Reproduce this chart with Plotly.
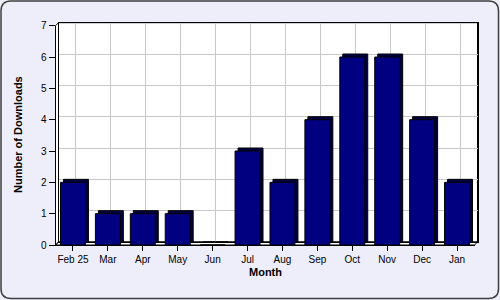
import plotly.graph_objects as go

months = ["Feb 25", "Mar", "Apr", "May", "Jun", "Jul", "Aug", "Sep", "Oct", "Nov", "Dec", "Jan"]
downloads = [2, 1, 1, 1, 0, 3, 2, 4, 6, 6, 4, 2]
y_ticks = [0, 1, 2, 3, 4, 5, 6, 7]

W, H = 500, 300


def px(x):
    return x / W


def py(y):
    return 1 - y / H


# back wall (base axes) and front frame (second subplot), 3px depth
back_x = [58.5, 477.5]
back_y = [22.7, 242.0]
front_x = [55.5, 474.5]
front_y = [25.7, 245.0]

fig = go.Figure()

# depth / shadow of the bars (back frame)
fig.add_trace(go.Bar(
    x=months, y=downloads, xaxis="x", yaxis="y",
    marker=dict(color="#000040", line=dict(color="#000000", width=1)),
    hoverinfo="skip", showlegend=False,
))
# front faces
fig.add_trace(go.Bar(
    x=months, y=downloads, xaxis="x2", yaxis="y2",
    marker=dict(color="#000080", line=dict(color="#000000", width=1)),
    showlegend=False,
))

tickfont = dict(family="Liberation Sans, Arial, sans-serif", size=10, color="#000000")

fig.update_layout(
    width=W, height=H,
    margin=dict(l=0, r=0, t=0, b=0, pad=0, autoexpand=False),
    paper_bgcolor="#eeeefb",
    plot_bgcolor="rgba(0,0,0,0)",
    bargap=10 / 35,
    xaxis=dict(
        domain=[px(back_x[0]), px(back_x[1])], anchor="y",
        type="category", categoryorder="array", categoryarray=months,
        showgrid=True, gridcolor="#c8c8c8", gridwidth=1,
        showline=True, linecolor="#000000", linewidth=1, mirror=True,
        showticklabels=False, ticks="", zeroline=False, automargin=False,
    ),
    yaxis=dict(
        domain=[py(back_y[1]), py(back_y[0])], anchor="x",
        range=[0, 7], tickvals=y_ticks,
        showgrid=True, gridcolor="#c8c8c8", gridwidth=1,
        showline=True, linecolor="#000000", linewidth=1, mirror=True,
        showticklabels=False, ticks="", zeroline=False, automargin=False,
    ),
    xaxis2=dict(
        domain=[px(front_x[0]), px(front_x[1])], anchor="y2",
        type="category", categoryorder="array", categoryarray=months,
        showgrid=False, showline=True, linecolor="#000000", linewidth=1,
        ticks="outside", ticklen=5, tickcolor="#000000", tickfont=tickfont,
        zeroline=False, automargin=False,
    ),
    yaxis2=dict(
        domain=[py(front_y[1]), py(front_y[0])], anchor="x2",
        range=[0, 7], tickvals=y_ticks, ticktext=[str(v) for v in y_ticks],
        showgrid=False, showline=True, linecolor="#000000", linewidth=1,
        ticks="outside", ticklen=6, tickcolor="#000000", tickfont=tickfont,
        zeroline=False, automargin=False,
    ),
)

fx0, fx1 = front_x
fy0, fy1 = front_y
bx0, bx1 = back_x
by0, by1 = back_y
shapes = [
    # back wall
    dict(type="rect", xref="paper", yref="paper",
         x0=px(bx0), x1=px(bx1), y0=py(by1), y1=py(by0),
         fillcolor="#ffffff", line=dict(color="#000000", width=1), layer="below"),
]
# left wall and floor (3D depth)
wall_path = (
    f"M {px(fx0)},{py(fy1)} L {px(fx0)},{py(fy0)} L {px(bx0)},{py(by0)} L {px(bx0)},{py(by1)} Z "
    f"M {px(fx0)},{py(fy1)} L {px(bx0)},{py(by1)} L {px(bx1)},{py(by1)} L {px(fx1)},{py(fy1)} Z"
)
shapes.append(dict(type="path", xref="paper", yref="paper", path=wall_path,
                   fillcolor="#ffffff", line=dict(color="#000000", width=1), layer="below"))

# outer rounded border
r = 10
x0, x1, y0, y1 = 1, 498.5, 1, 298.5
border = (
    f"M {px(x0 + r)},{py(y0)} L {px(x1 - r)},{py(y0)} Q {px(x1)},{py(y0)} {px(x1)},{py(y0 + r)} "
    f"L {px(x1)},{py(y1 - r)} Q {px(x1)},{py(y1)} {px(x1 - r)},{py(y1)} "
    f"L {px(x0 + r)},{py(y1)} Q {px(x0)},{py(y1)} {px(x0)},{py(y1 - r)} "
    f"L {px(x0)},{py(y0 + r)} Q {px(x0)},{py(y0)} {px(x0 + r)},{py(y0)} Z"
)
shapes.append(dict(type="path", xref="paper", yref="paper", path=border,
                   line=dict(color="#404040", width=1.5), layer="above"))
fig.update_layout(shapes=shapes)

titlefont = dict(family="Liberation Sans, Arial, sans-serif", size=11, color="#000000")
fig.add_annotation(text="<b>Number of Downloads</b>", xref="paper", yref="paper",
                   x=px(18), y=py(135), textangle=-90, showarrow=False,
                   font=titlefont, xanchor="center", yanchor="middle")
fig.add_annotation(text="<b>Month</b>", xref="paper", yref="paper",
                   x=px(265), y=py(272), showarrow=False,
                   font=titlefont, xanchor="center", yanchor="middle")

fig.write_html("out.html")
